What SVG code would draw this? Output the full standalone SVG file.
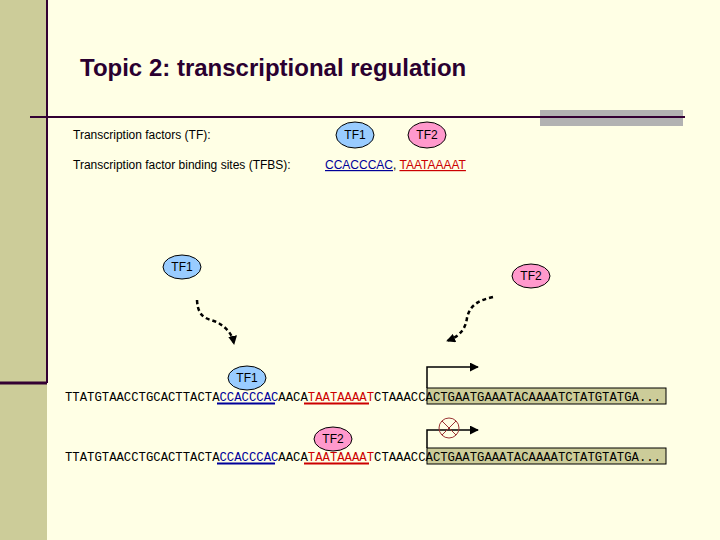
<svg xmlns="http://www.w3.org/2000/svg" width="720" height="540" viewBox="0 0 720 540">
<defs>
<marker id="ah" viewBox="0 0 10 10" refX="9" refY="5" markerWidth="9" markerHeight="9" markerUnits="userSpaceOnUse" orient="auto"><path d="M0,0L10,5L0,10z" fill="#000"/></marker>
<style>
.lab{font-family:"Liberation Sans",Arial,sans-serif;font-size:12px;fill:#000}
.tf{font-family:"Liberation Sans",Arial,sans-serif;font-size:12px;fill:#000;text-anchor:middle}
.e1{fill:#99ccff;stroke:#000;stroke-width:1}
.e2{fill:#ff99cc;stroke:#000;stroke-width:1}
.seq{font-family:"Liberation Mono",monospace;font-size:12px;fill:#000}
.box{fill:#cccc99;stroke:#000;stroke-width:1}
</style>
</defs>
<rect width="720" height="540" fill="#ffffe5"/>
<rect x="0" y="0" width="47" height="540" fill="#cccc99"/>
<line x1="47" y1="0" x2="47" y2="383" stroke="#330033" stroke-width="2"/>
<line x1="0" y1="383" x2="47" y2="383" stroke="#330033" stroke-width="3"/>
<rect x="540" y="110" width="143" height="16" fill="#b2b2b2"/>
<line x1="30" y1="117" x2="685" y2="117" stroke="#330033" stroke-width="2"/>
<text x="80" y="76" font-family="Liberation Sans,Arial,sans-serif" font-size="24" font-weight="bold" fill="#2a0030">Topic 2: transcriptional regulation</text>
<text class="lab" x="73" y="139">Transcription factors (TF):</text>
<text class="lab" x="73" y="169">Transcription factor binding sites (TFBS):</text>
<g id="legend-tf1"><ellipse class="e1" cx="355" cy="135" rx="19" ry="13"/><text class="tf" x="355" y="139">TF1</text></g>
<g id="legend-tf2"><ellipse class="e2" cx="427" cy="135" rx="19" ry="13"/><text class="tf" x="427" y="139">TF2</text></g>
<text class="lab" x="325" y="169"><tspan fill="#000099" text-decoration="underline">CCACCCAC</tspan>, <tspan fill="#cc0000" text-decoration="underline">TAATAAAAT</tspan></text>
<g id="tf1-free"><ellipse class="e1" cx="182" cy="267" rx="19" ry="12"/><text class="tf" x="182" y="271">TF1</text></g>
<g id="tf2-free"><ellipse class="e2" cx="531" cy="276" rx="19" ry="12"/><text class="tf" x="531" y="280">TF2</text></g>
<g id="connectors" fill="none" stroke="#000">
<path d="M197,300 C198,322 212,318 220,324 C226,328 232,333 234,344" stroke-width="2.5" stroke-dasharray="4,3" marker-end="url(#ah)"/>
<path d="M493,297 C480,300 470,304 467,318 C465,332 457,337 447,341" stroke-width="2.5" stroke-dasharray="4,3" marker-end="url(#ah)"/>
<path d="M427,388 V367 H478" stroke-width="1.5" marker-end="url(#ah)"/>
<path d="M427,448 V430 H478" stroke-width="1.5" marker-end="url(#ah)"/>
</g>
<g id="row1">
<rect class="box" x="427" y="388" width="239" height="16"/>
<text class="seq" x="65" y="401" textLength="596" lengthAdjust="spacingAndGlyphs">TTATGTAACCTGCACTTACTA<tspan fill="#000099">CCACCCAC</tspan>AACA<tspan fill="#cc0000">TAATAAAAT</tspan>CTAAACCACTGAATGAAATACAAAATCTATGTATGA...</text>
<line x1="217" y1="403.5" x2="275" y2="403.5" stroke="#000099" stroke-width="2"/>
<line x1="304" y1="403.5" x2="369" y2="403.5" stroke="#cc0000" stroke-width="2"/>
<g id="tf1-bound"><ellipse class="e1" cx="247" cy="378" rx="19" ry="12"/><text class="tf" x="247" y="382">TF1</text></g>
</g>
<g id="row2">
<rect class="box" x="427" y="448" width="239" height="16"/>
<text class="seq" x="65" y="461" textLength="596" lengthAdjust="spacingAndGlyphs">TTATGTAACCTGCACTTACTA<tspan fill="#000099">CCACCCAC</tspan>AACA<tspan fill="#cc0000">TAATAAAAT</tspan>CTAAACCACTGAATGAAATACAAAATCTATGTATGA...</text>
<line x1="217" y1="463.5" x2="275" y2="463.5" stroke="#000099" stroke-width="2"/>
<line x1="304" y1="463.5" x2="369" y2="463.5" stroke="#cc0000" stroke-width="2"/>
<g id="tf2-bound"><ellipse class="e2" cx="333" cy="439" rx="19" ry="12"/><text class="tf" x="333" y="443">TF2</text></g>
<g id="block" stroke="#993333" stroke-width="1" fill="none"><circle cx="449" cy="428" r="10"/><path d="M442,421L456,435M456,421L442,435"/></g>
</g>
</svg>
